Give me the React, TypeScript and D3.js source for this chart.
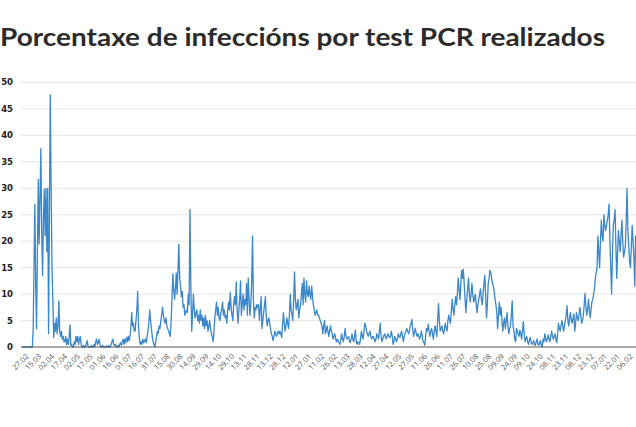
import React from "react";
import * as d3 from "d3";

const title = "Porcentaxe de infeccións por test PCR realizados";

const tickLabels = [
  "27.02","15.03","02.04","17.04","02.05","17.05","01.06","16.06","01.07","16.07",
  "31.07","15.08","30.08","14.09","29.09","14.10","29.10","13.11","28.11","13.12",
  "28.12","12.01","27.01","11.02","26.02","13.03","28.03","12.04","27.04","12.05",
  "27.05","11.06","26.06","11.07","26.07","10.08","25.08","09.09","24.09","09.10",
  "24.10","08.11","23.11","08.12","23.12","07.01","22.01","06.02",
];

const yTicks = [0, 5, 10, 15, 20, 25, 30, 35, 40, 45, 50];

// daily positivity (%)
const positivity = [
  0,0,0,0,0,0,0,0,0,0,0,0,0,3,15,27,12,3.5,18,31.7,
  19.5,28,37.5,22,13.5,24,29.8,21,30,18,30,2.5,25,47.7,30,15,9,1.8,4.5,3,
  5.5,2.5,4,8.7,3,2,3,1.5,2,1,1,2,0.5,1.5,0.5,2,4.2,0.3,0.5,0,
  0,1,0.5,2,1,2,0.5,1.5,2,0.5,0,0,0.3,0,0,0.5,1.2,0.2,0,0,
  0,0.3,0,0,0.5,0,1,1.5,0.5,0.8,1.5,0.5,0,0,0.3,0,0,0,0.2,0,
  0,0.3,0,0,0.5,1,1.5,0.5,0.3,0.5,0,0,0.3,0,0.5,0.8,0.3,1,1.5,0.5,
  1.5,0.8,1.8,1,2,1.2,2,3.5,6.5,4,4.5,3,3,5,7,10.5,4,1.5,0.5,1,
  0.5,1.5,0.8,1.2,1.5,0.8,2,3,4.5,7,5,3.5,2,1,0.5,0,1,2,3,2.5,
  4,3.5,5,6,7.5,6,5,4.5,5.5,4,3.5,3,2.5,2,5,9,13.8,11,9,11,
  14,10,14.5,19.4,13,11.5,9.5,10.5,7.5,8,6,6.5,7,6.5,10,8,26,12,3,6,
  10,7,5.5,6.5,7,5,6,4.5,7,5,6,4,5.5,3.5,6,4,5,3,4,5,
  3.5,2.5,2,1,3,5.5,7,8.5,6,7.5,5.5,5,6.5,7,8.5,6,7,5.5,6,4.5,
  7,8.5,7,10.3,7.5,6,5,8,9.5,8,12.3,7,4.5,7,9,12.5,6,8,10,7,
  9,8,12,6,13,9,6,8,12,21,9,5.5,7.5,7,8,7.5,8,5,7,9.5,
  3.5,5,6.5,8,9.5,6,4,5,5.5,4.5,3.5,2.5,2,1.2,2,3,2.5,2,2.5,3,
  2.5,3,2.5,1.8,4,6.5,4.5,3,4,5.5,4.5,3.5,6,10,7,6,5,9,14.2,9,
  7,8,9,5.5,7,8,10,12,8,13,10,8.5,12.5,10,9.5,11.5,10,9,11.5,9.5,
  8,7,6,6.5,7,6,6,5.5,5,4.5,4,2.5,4,5,2.5,3,4,3,2,3,
  4,3,2.5,1.5,2,2.5,1.5,1,1.5,1,0.8,0.5,1.5,2.5,1.5,1,2,3.5,2,1.5,
  1.8,2,1.2,0.8,1.5,2.5,1.5,1,2,3.2,1,0.5,1,0.8,0.5,1.5,3,2,1.5,3,
  4.5,4,3,2.5,2,2.5,3,2,1.5,2,2,1.5,1,1.5,2.5,2,1.5,3,4.5,2,
  1,1.5,2,2.5,2,1.5,2,2.5,2,1.8,2,3,2,0.5,1,2,1.5,1,1.5,2.5,
  2,1.8,2.5,3,2,1,2,2.5,3,3.5,3,2.5,3,4,4.5,5.2,3,2,3,3.5,
  2.5,2,2.5,2,1.5,2,3,2,1,0.8,0.3,2,3.5,3,4.3,3,2,3,3.5,2.5,
  1.5,3,4,3,2,5,8.2,5,3,3.5,4,3,2.5,3.5,4.5,3.5,3,5,6,5,
  4.5,7,9,7,6,8,9.5,8,10,13,11,9,11.5,14.5,13,14.7,12,9,6.5,9,
  11,13,10,8.5,10,12,10,8.5,9,10,8,6.5,8,9,10,11,9,8,10,12,
  13.5,10,5.5,8,12,13,14.5,14,13,12,11.5,10.5,9,8,6.5,3.5,6,8.5,6,7.5,
  5,3,4.5,5.5,3.5,5,6.5,4,2.5,3.5,4,6,8.7,4,3,1.5,1,3.5,3,2.5,
  2,3.2,2.5,1.5,3,4.8,2.5,1,1.5,2,1,0.5,1.2,1.8,1,0.5,0.8,1.2,0.5,0.3,
  1,1.5,0.5,0.3,0.8,1.2,0.3,0,1.5,1,2.5,1.5,1,1.5,2.3,1.5,1,2,3,2,
  1.5,2,2.5,1.5,0.8,2.5,4.5,3.5,3,4,5,4,3,4,5,6,7.8,5,4,5.5,
  6.5,5,4.5,5.5,6.2,3,4.5,6.5,5.5,5,6,7.5,6,4.5,5,6,8,10.2,7.5,6,
  7,9,7,5.5,7,8.5,9,10,11,13,14,15,21,18,15,20,24,21,20,25,
  23,22,23,24,25,27,20,15,10,18,23,24,26,19,13,18,22,20,18,21,
  24,20,17,18,19,24,30,22,19,16,15,19,23,20,17,11.5,21,20,
];

const W = 636;
const H = 427;

export default function App() {
  const x = d3.scaleLinear().domain([0, positivity.length - 1]).range([22, 22 + (positivity.length - 1) * 0.857]);
  const y = d3.scaleLinear().domain([0, 50]).range([347, 82.5]);
  const line = d3
    .line<number>()
    .x((_, i) => x(i))
    .y((d) => y(d))
    .curve(d3.curveLinear);

  return (
    <svg
      width={W}
      height={H}
      style={{ position: "absolute", left: 0, top: 0, background: "#fff", overflow: "hidden" }}
    >
      <text
        x={0}
        y={46}
        fontFamily="Lato, 'Open Sans', sans-serif"
        fontWeight={700}
        fontSize={24}
        fill="#2b2b2b"
        textLength={605}
        lengthAdjust="spacingAndGlyphs"
      >
        {title}
      </text>
      {yTicks.map((t) => (
        <g key={t}>
          {t !== 0 && (
            <line x1={21} x2={W + 10} y1={y(t)} y2={y(t)} stroke="#e8e8e8" strokeWidth={1} />
          )}
          <text
            x={13}
            y={y(t)}
            dy="0.35em"
            textAnchor="end"
            fontFamily="'DejaVu Sans', sans-serif"
            fontWeight={700}
            fontSize={8.5}
            fill="#222"
          >
            {t}
          </text>
        </g>
      ))}
      <path d={line(positivity) || ""} fill="none" stroke="#3a87c9" strokeWidth={1.3} strokeLinejoin="round" />
      <line x1={21} x2={W + 10} y1={y(0)} y2={y(0)} stroke="#555" strokeWidth={1.2} />
      {tickLabels.map((lab, k) => {
        const tx = x(k * 15) + 7;
        const ty = 357;
        return (
          <text
            key={lab + k}
            transform={`translate(${tx},${ty}) rotate(-45)`}
            textAnchor="end"
            fontFamily="'Open Sans', sans-serif"
            fontSize={7.5}
            fill="#555"
          >
            {lab}
          </text>
        );
      })}
    </svg>
  );
}
